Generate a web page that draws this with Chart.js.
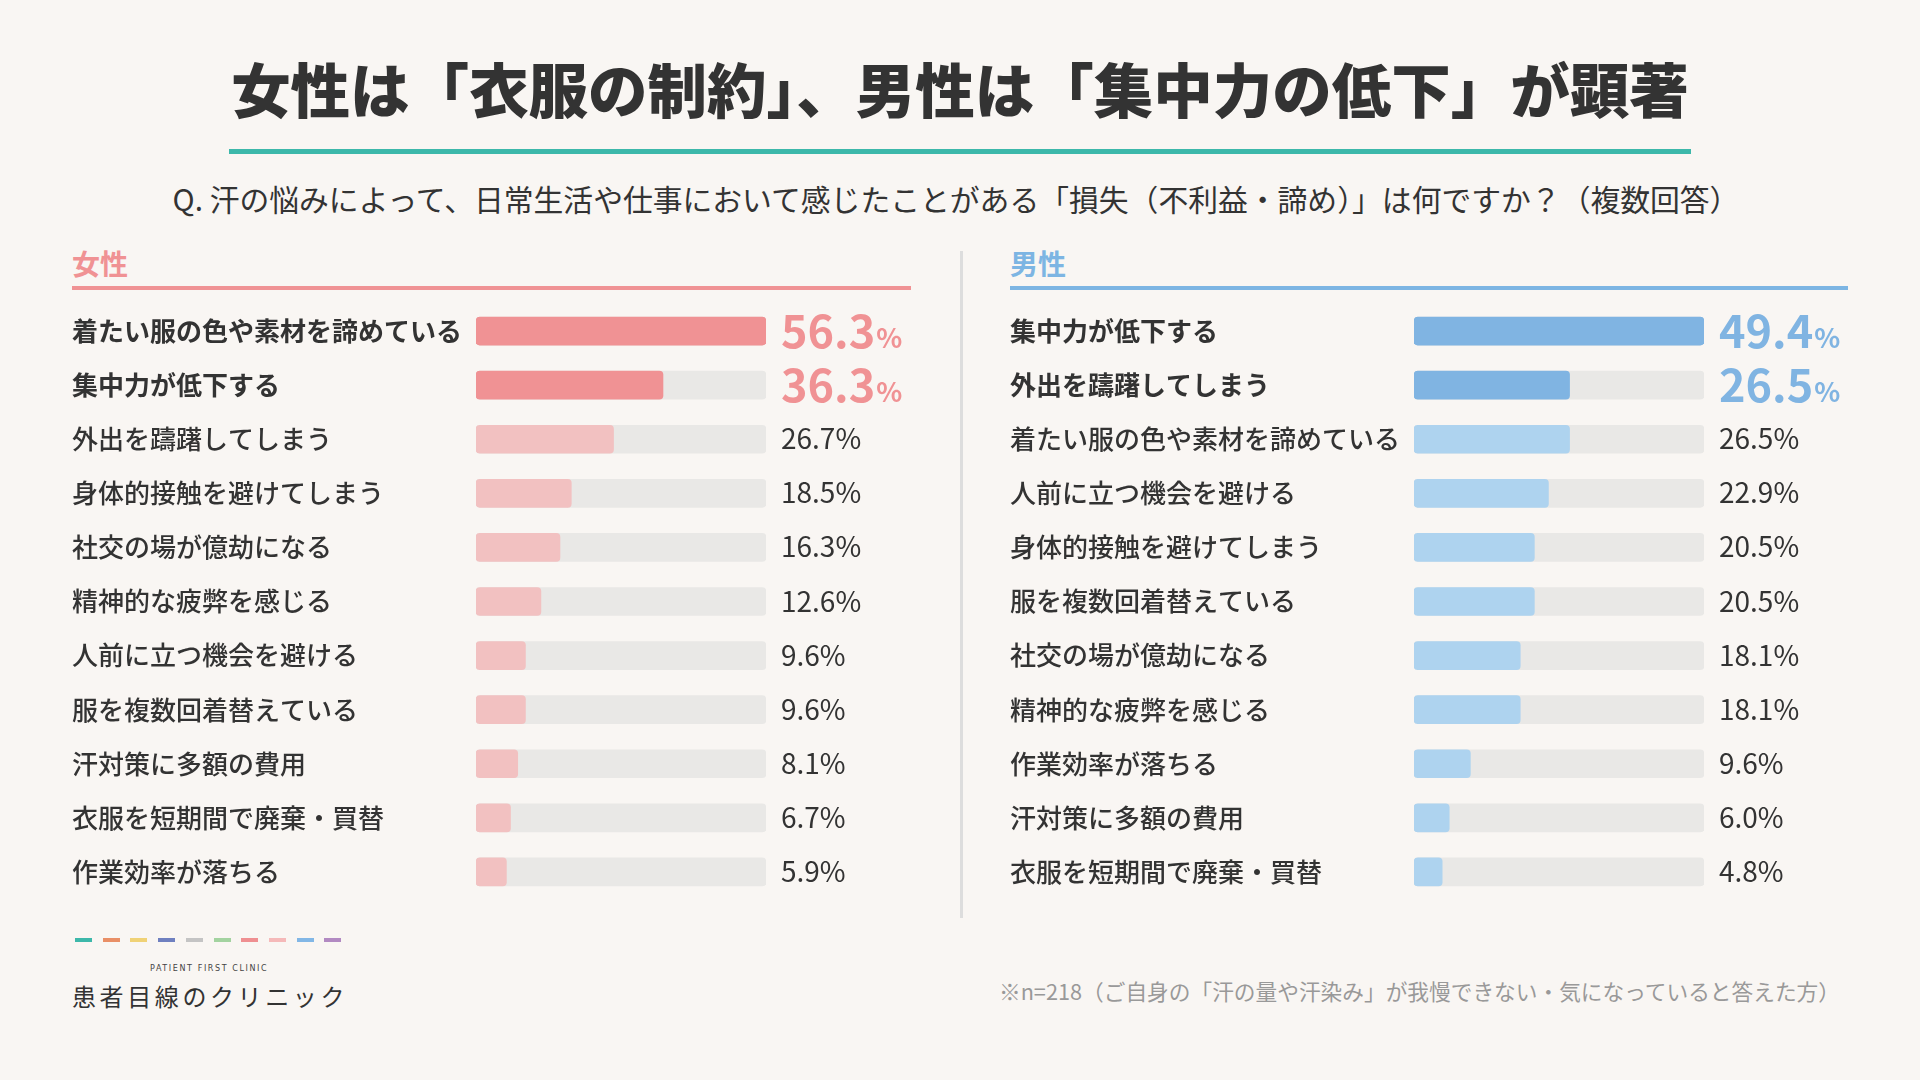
<!DOCTYPE html>
<html lang="ja">
<head>
<meta charset="UTF-8">
<title>汗の悩みによる損失</title>
<script src="https://cdn.jsdelivr.net/npm/chart.js"></script>
<style>
  body { margin:0; width:1920px; height:1080px; background:#f9f6f3; position:relative; overflow:hidden;
         font-family:'Noto Sans CJK JP','Noto Sans',sans-serif; color:#333; }
  .abs { position:absolute; }
  #title { left:0; width:1920px; top:52px; height:70px; line-height:70px; text-align:center; font-size:59.5px; font-weight:900; }
  #titleLine { left:229px; width:1462px; top:149px; height:5px; background:#3db8aa; }
  #sub { left:0; width:1912px; top:180px; height:36px; line-height:36px; text-align:center; font-size:29.8px; }
  .head { top:246px; height:34px; line-height:34px; font-size:28px; font-weight:700; }
  .rule { top:286px; height:4px; }
  #divider { left:960px; top:251px; width:3px; height:667px; background:#dddddd; }
  .dash { top:938px; width:17px; height:4px; }
  #en { left:150px; top:962px; font-size:8px; letter-spacing:1.6px; line-height:14px; color:#444; font-family:'DejaVu Sans',sans-serif; }
  #jp { left:72px; top:980px; font-size:24px; letter-spacing:3.6px; line-height:32px; color:#333; }
  #note { right:80px; top:977px; font-size:21.7px; line-height:28px; color:#999; }
  canvas { position:absolute; }
</style>
</head>
<body>
<div id="title" class="abs">女性は「衣服の制約」、男性は「集中力の低下」が顕著</div>
<div id="titleLine" class="abs"></div>
<div id="sub" class="abs">Q. 汗の悩みによって、日常生活や仕事において感じたことがある「損失（不利益・諦め）」は何ですか？（複数回答）</div>

<div class="abs head" style="left:72px;color:#f09294;">女性</div>
<div class="abs rule" style="left:72px;width:839px;background:#f09294;"></div>
<div class="abs head" style="left:1010px;color:#7db5e3;">男性</div>
<div class="abs rule" style="left:1010px;width:838px;background:#7db5e3;"></div>
<div id="divider" class="abs"></div>

<canvas id="women" width="848" height="595" style="left:72px;top:304px;"></canvas>
<canvas id="men" width="848" height="595" style="left:1010px;top:304px;"></canvas>

<div id="en" class="abs">PATIENT FIRST CLINIC</div>
<div id="jp" class="abs">患者目線のクリニック</div>
<div id="note" class="abs">※n=218（ご自身の「汗の量や汗染み」が我慢できない・気になっていると答えた方）</div>

<script>
const womenLabels = ['着たい服の色や素材を諦めている', '集中力が低下する', '外出を躊躇してしまう', '身体的接触を避けてしまう',
  '社交の場が億劫になる', '精神的な疲弊を感じる', '人前に立つ機会を避ける', '服を複数回着替えている',
  '汗対策に多額の費用', '衣服を短期間で廃棄・買替', '作業効率が落ちる'];
const womenValues = [56.3, 36.3, 26.7, 18.5, 16.3, 12.6, 9.6, 9.6, 8.1, 6.7, 5.9];

const menLabels = ['集中力が低下する', '外出を躊躇してしまう', '着たい服の色や素材を諦めている', '人前に立つ機会を避ける',
  '身体的接触を避けてしまう', '服を複数回着替えている', '社交の場が億劫になる', '精神的な疲弊を感じる',
  '作業効率が落ちる', '汗対策に多額の費用', '衣服を短期間で廃棄・買替'];
const menValues = [49.4, 26.5, 26.5, 22.9, 20.5, 20.5, 18.1, 18.1, 9.6, 6.0, 4.8];

const logoColors = ['#3db8aa', '#e98f66', '#f0d276', '#6f80c0', '#c4c4c4', '#a3d3a0', '#ef8f91', '#f5b9b9', '#82b7e6', '#b28ac2'];

const FONT = "'Noto Sans CJK JP', 'Noto Sans', sans-serif";
const TOP = 2; // highlighted rows

// logo dashes
logoColors.forEach(function(c, i) {
  var d = document.createElement('div');
  d.className = 'abs dash';
  d.style.left = (75 + i * 27.7) + 'px';
  d.style.background = c;
  document.body.appendChild(d);
});

const valueLabels = {
  id: 'valueLabels',
  afterDatasetsDraw(chart, args, opts) {
    var ctx = chart.ctx;
    var x = chart.scales.x;
    var x0 = x.getPixelForValue(x.max) + 15;
    var vals = chart.data.datasets[0].data;
    ctx.save();
    ctx.textAlign = 'left';
    ctx.textBaseline = 'alphabetic';
    chart.getDatasetMeta(0).data.forEach(function(bar, i) {
      var txt = vals[i].toFixed(1);
      if (i < TOP) {
        ctx.fillStyle = opts.color;
        ctx.font = 'bold 45px ' + FONT;
        ctx.fillText(txt, x0, bar.y + 17);
        var w = ctx.measureText(txt).width;
        ctx.font = 'bold 27px ' + FONT;
        ctx.fillText('%', x0 + w + 1, bar.y + 17);
      } else {
        ctx.fillStyle = '#333';
        ctx.font = '28px ' + FONT;
        ctx.fillText(txt + '%', x0, bar.y + 10);
      }
    });
    ctx.restore();
  }
};

function makePanel(id, labels, values, dark, light) {
  var max = Math.max.apply(null, values);
  return new Chart(document.getElementById(id), {
    type: 'bar',
    data: {
      labels: labels,
      datasets: [
        { data: values, backgroundColor: values.map(function(v, i) { return i < TOP ? dark : light; }),
          borderRadius: 4, borderSkipped: false, barThickness: 28, order: 0 },
        { data: labels.map(function() { return max; }), backgroundColor: '#e9e8e6',
          borderRadius: 4, borderSkipped: false, barThickness: 28, order: 1 }
      ]
    },
    options: {
      indexAxis: 'y',
      responsive: false,
      animation: false,
      datasets: { bar: { grouped: false } },
      layout: { padding: { left: 0, right: 154, top: 0, bottom: 0 } },
      scales: {
        x: { display: false, min: 0, max: max },
        y: {
          grid: { display: false },
          border: { display: false },
          afterFit: function(s) { s.width = 404; s.paddingTop = 0; s.paddingBottom = 0; },
          ticks: {
            crossAlign: 'far',
            padding: 0,
            color: '#333',
            font: function(c) { return { family: FONT, size: 26, weight: c.index < TOP ? 'bold' : '500' }; }
          }
        }
      },
      plugins: {
        legend: { display: false },
        tooltip: { enabled: false },
        valueLabels: { color: dark }
      }
    },
    plugins: [valueLabels]
  });
}

makePanel('women', womenLabels, womenValues, '#f09294', '#f2c1c1');
makePanel('men', menLabels, menValues, '#80b4e2', '#aed3ef');
</script>
</body>
</html>
